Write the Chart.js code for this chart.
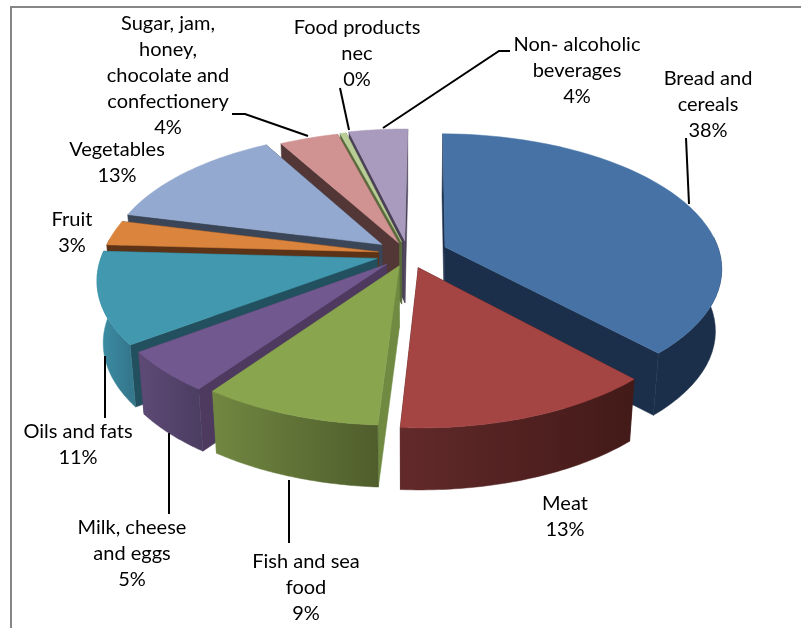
<!DOCTYPE html>
<html>
<head>
<meta charset="utf-8">
<style>
html, body { margin: 0; padding: 0; background: #fff; overflow: hidden; }
#wrap { position: relative; width: 801px; height: 628px; }
#frame { position: absolute; left: 10px; top: 6px; right: 0; bottom: 0; border-left: 2px solid #868686; border-top: 2px solid #868686; }
canvas { position: absolute; left: 0; top: 0; }
</style>
<script src="https://cdn.jsdelivr.net/npm/chart.js@4/dist/chart.umd.js"></script>
</head>
<body>
<div id="wrap">
  <div id="frame"></div>
  <canvas id="myChart" width="801" height="628"></canvas>
</div>
<script>
// Food spending shares
var categories = ['Bread and\ncereals', 'Meat', 'Fish and sea\nfood', 'Milk, cheese\nand eggs', 'Oils and fats',
    'Fruit', 'Vegetables', 'Sugar, jam,\nhoney,\nchocolate and\nconfectionery', 'Food products\nnec', 'Non- alcoholic\nbeverages'];
var shares = [38, 13, 9, 5, 11, 3, 13, 4, 0.4, 4];

// How far each slice is pulled out of the pie
var explode = [40, 30, 26, 30, 32, 30, 33, 25, 26, 28];

// Slice colours: top, radial cut, outer wall left to right
var topColors = ['#4672a6', '#a54543', '#89a54e', '#71588f', '#4198af', '#db843d', '#93a9cf', '#d19392', '#b9cd96', '#a99bbd'];
var cutColors = ['#1c2f4a', '#411a18', '#708a42', '#4d3a5e', '#22505e', '#5c3317', '#3a4658', '#533636', '#5a6b3b', '#4a4158'];
var wallFrom = ['#1c2f4a', '#62292a', '#718741', '#5e4a76', '#3c90a7', '#5c3317', '#3a4658', '#533636', '#5a6b3b', '#4a4158'];
var wallTo = ['#1c2f4a', '#421a18', '#4f5e2c', '#4c3d62', '#35778c', '#5c3317', '#3a4658', '#533636', '#5a6b3b', '#4a4158'];

// Label anchors: centre x, y of first line
var labelSpots = [[708, 79], [565, 504], [306, 562], [132, 528], [78, 432], [72, 220], [117, 150], [168, 24], [357, 28], [577, 45]];
var lineHeight = 26;

// Leader lines
var leaders = [
    [[686, 138], [689, 204]],
    [[289, 543], [289, 480]],
    [[169, 514], [169, 433]],
    [[105, 418], [105, 356]],
    [[232, 114], [245, 114], [308, 136]],
    [[340, 88], [349, 130]],
    [[510, 51], [499, 51], [383, 128]]
];

// View settings for the tilted pie
var centerX = 408, centerY = 254;
var tilt = 0.48, perspective = 0.148, depth = 62, shrink = 0.98;

function project(px, py, radius, lower) {
    var s = 1 / (1 - perspective * py / radius);
    var x = px * s;
    var y = centerY + py * tilt * s;
    if (lower) {
        return [centerX + x * shrink, y + depth];
    }
    return [centerX + x, y];
}

function fillPath(ctx, points, fill) {
    ctx.beginPath();
    points.forEach(function (p, i) {
        if (i === 0) ctx.moveTo(p[0], p[1]);
        else ctx.lineTo(p[0], p[1]);
    });
    ctx.closePath();
    ctx.fillStyle = fill;
    ctx.fill();
    ctx.strokeStyle = fill;
    ctx.lineWidth = 0.5;
    ctx.stroke();
}

function drawSlice(ctx, arc, index) {
    var start = arc.startAngle, end = arc.endAngle, radius = arc.outerRadius;
    var mid = (start + end) / 2;
    var ox = Math.cos(mid) * arc.options.offset;
    var oy = Math.sin(mid) * arc.options.offset;

    var topRim = [], wallTop = [], wallLow = [];
    var steps = 48;
    var lowFirst, lowLast;
    for (var i = 0; i <= steps; i++) {
        var a = start + (end - start) * i / steps;
        var px = ox + Math.cos(a) * radius;
        var py = oy + Math.sin(a) * radius;
        var upper = project(px, py, radius, false);
        var lower = project(px, py, radius, true);
        topRim.push(upper);
        if (i === 0) lowFirst = lower;
        if (i === steps) lowLast = lower;
        // the far part of the rim never shows a wall
        if (Math.sin(a) > -0.1) {
            wallTop.push(upper);
            wallLow.push(lower);
        }
    }
    var apexTop = project(ox, oy, radius, false);
    var apexLow = project(ox, oy, radius, true);

    // radial cuts first, the wall and the top paint over whichever face away
    fillPath(ctx, [apexTop, topRim[0], lowFirst, apexLow], cutColors[index]);
    fillPath(ctx, [apexTop, topRim[steps], lowLast, apexLow], cutColors[index]);

    if (wallTop.length > 1) {
        var xs = wallTop.map(function (p) { return p[0]; });
        var grad = ctx.createLinearGradient(Math.min.apply(null, xs), 0, Math.max.apply(null, xs), 0);
        grad.addColorStop(0, wallFrom[index]);
        grad.addColorStop(1, wallTo[index]);
        fillPath(ctx, wallTop.concat(wallLow.slice().reverse()), grad);
    }

    fillPath(ctx, [apexTop].concat(topRim), arc.options.backgroundColor);
}

var pie3d = {
    id: 'pie3d',
    beforeDatasetsDraw: function (chart) {
        var ctx = chart.ctx;
        var arcs = chart.getDatasetMeta(0).data;
        var order = arcs.map(function (arc, i) { return i; });
        // far slices first so the near ones overlap them
        order.sort(function (a, b) {
            return Math.sin((arcs[a].startAngle + arcs[a].endAngle) / 2) - Math.sin((arcs[b].startAngle + arcs[b].endAngle) / 2);
        });
        ctx.save();
        order.forEach(function (i) { drawSlice(ctx, arcs[i], i); });
        ctx.restore();
        return false;
    },
    afterDraw: function (chart) {
        var ctx = chart.ctx;
        var total = shares.reduce(function (sum, v) { return sum + v; }, 0);

        ctx.save();
        ctx.strokeStyle = '#000';
        ctx.lineWidth = 2;
        leaders.forEach(function (line) {
            ctx.beginPath();
            line.forEach(function (p, i) {
                if (i === 0) ctx.moveTo(p[0], p[1]);
                else ctx.lineTo(p[0], p[1]);
            });
            ctx.stroke();
        });

        ctx.fillStyle = '#000';
        ctx.font = '20px Lato';
        ctx.textAlign = 'center';
        ctx.textBaseline = 'middle';
        categories.forEach(function (name, i) {
            var lines = name.split('\n');
            lines.push(Math.round(shares[i] / total * 100) + '%');
            lines.forEach(function (text, n) {
                ctx.fillText(text, labelSpots[i][0], labelSpots[i][1] + n * lineHeight);
            });
        });
        ctx.restore();
    }
};

var ctx = document.getElementById('myChart').getContext('2d');
var myChart = new Chart(ctx, {
    type: 'pie',
    data: {
        labels: categories,
        datasets: [{
            data: shares,
            backgroundColor: topColors,
            offset: explode,
            borderWidth: 0
        }]
    },
    options: {
        responsive: false,
        animation: false,
        radius: 275,
        rotation: 0.6,
        layout: { padding: 0 },
        plugins: {
            legend: { display: false },
            tooltip: { enabled: false }
        }
    },
    plugins: [pie3d]
});
</script>
</body>
</html>
